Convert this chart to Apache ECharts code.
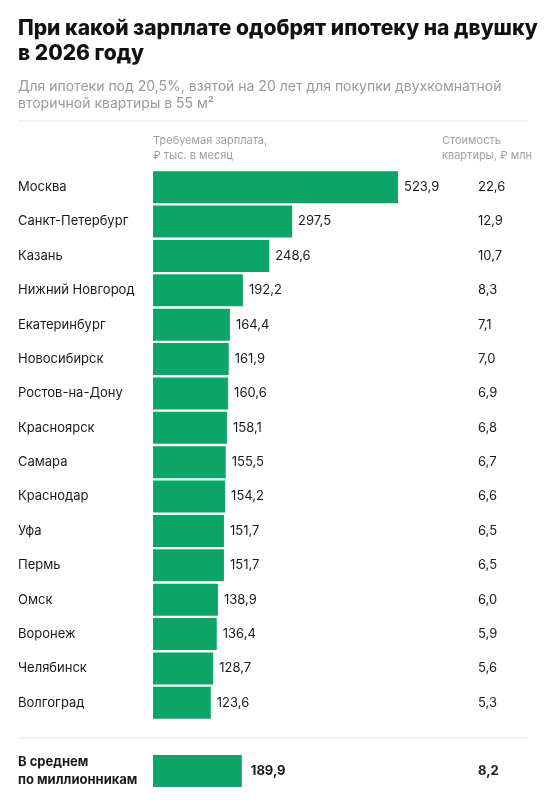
<!DOCTYPE html>
<html><head><meta charset="utf-8">
<script src="https://cdn.jsdelivr.net/npm/echarts@6/dist/echarts.min.js"></script>
<style>html,body{margin:0;padding:0;background:#fff}#c{width:560px;height:800px}</style>
</head><body><div id="c"></div>
<script>
const cities = ['Москва','Санкт-Петербург','Казань','Нижний Новгород','Екатеринбург','Новосибирск','Ростов-на-Дону','Красноярск','Самара','Краснодар','Уфа','Пермь','Омск','Воронеж','Челябинск','Волгоград'];
const salary = [523.9,297.5,248.6,192.2,164.4,161.9,160.6,158.1,155.5,154.2,151.7,151.7,138.9,136.4,128.7,123.6];
const price = ['22,6','12,9','10,7','8,3','7,1','7,0','6,9','6,8','6,7','6,6','6,5','6,5','6,0','5,9','5,6','5,3'];
const avgLabel = ['В среднем\nпо миллионникам'];
const avgSalary = [189.9];
const avgPrice = ['8,2'];

const FONT = 'Inter, "Noto Sans", sans-serif';
const GREEN = '#0ba667';
const fmt = v => v.toFixed(1).replace('.', ',');
const W = 245 * 600 / 523.9;
const chart = echarts.init(document.getElementById('c'));
chart.setOption({
  animation: false,
  textStyle: { fontFamily: FONT },
  graphic: [
    { type: 'text', left: 18, top: 16, style: { text: 'При какой зарплате одобрят ипотеку на двушку\nв 2026 году', font: '800 21px ' + FONT, fill: '#111', lineHeight: 25 } },
    { type: 'text', left: 18, top: 78, style: { text: 'Для ипотеки под 20,5%, взятой на 20 лет для покупки двухкомнатной\nвторичной квартиры в 55 м²', font: '14px ' + FONT, fill: '#9a9a9a', lineHeight: 17 } },
    { type: 'line', shape: { x1: 18, y1: 121, x2: 528, y2: 121 }, style: { stroke: '#e4e4e4', lineWidth: 1 } },
    { type: 'text', left: 153, top: 133, style: { text: 'Требуемая зарплата,\n₽ тыс. в месяц', font: '11px ' + FONT, fill: '#a0a0a0', lineHeight: 15 } },
    { type: 'text', left: 442, top: 133, style: { text: 'Стоимость\nквартиры, ₽ млн', font: '11px ' + FONT, fill: '#a0a0a0', lineHeight: 15 } },
    { type: 'line', shape: { x1: 18, y1: 738, x2: 528, y2: 738 }, style: { stroke: '#e4e4e4', lineWidth: 1 } }
  ],
  grid: [
    { left: 153, top: 170, width: W, height: 550 },
    { left: 153, top: 754, width: W, height: 34 }
  ],
  xAxis: [
    { gridIndex: 0, type: 'value', min: 0, max: 600, show: false },
    { gridIndex: 1, type: 'value', min: 0, max: 600, show: false }
  ],
  yAxis: [
    { gridIndex: 0, type: 'category', inverse: true, data: cities, axisLine: { show: false }, axisTick: { show: false },
      axisLabel: { align: 'left', margin: 135, fontSize: 13, color: '#1a1a1a', fontFamily: FONT } },
    { gridIndex: 0, type: 'category', inverse: true, position: 'right', data: price, axisLine: { show: false }, axisTick: { show: false },
      axisLabel: { align: 'left', margin: 478 - 153 - W, fontSize: 13, color: '#1a1a1a', fontFamily: FONT } },
    { gridIndex: 1, type: 'category', data: avgLabel, axisLine: { show: false }, axisTick: { show: false },
      axisLabel: { align: 'left', margin: 135, fontSize: 13, fontWeight: 'bold', color: '#1a1a1a', lineHeight: 18, fontFamily: FONT } },
    { gridIndex: 1, type: 'category', position: 'right', data: avgPrice, axisLine: { show: false }, axisTick: { show: false },
      axisLabel: { align: 'left', margin: 478 - 153 - W, fontSize: 13, fontWeight: 'bold', color: '#1a1a1a', fontFamily: FONT } }
  ],
  series: [
    { type: 'bar', xAxisIndex: 0, yAxisIndex: 0, data: salary, barWidth: 32, itemStyle: { color: GREEN },
      label: { show: true, position: 'right', distance: 6, fontSize: 13, color: '#1a1a1a', formatter: p => fmt(p.value) } },
    { type: 'bar', xAxisIndex: 1, yAxisIndex: 2, data: avgSalary, barWidth: 32, itemStyle: { color: GREEN },
      label: { show: true, position: 'right', distance: 9, fontSize: 13, fontWeight: 'bold', color: '#1a1a1a', formatter: p => fmt(p.value) } }
  ]
});
</script></body></html>
